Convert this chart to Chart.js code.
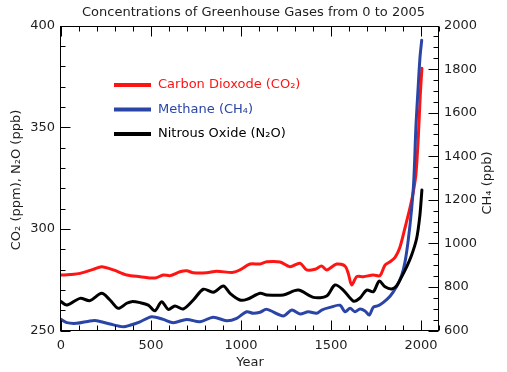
<!DOCTYPE html>
<html><head><meta charset="utf-8">
<script src="https://cdn.jsdelivr.net/npm/chart.js@4.4.1/dist/chart.umd.min.js"></script>
<style>html,body{margin:0;padding:0;background:#fff}#wrap{width:507px;height:372px}</style>
</head><body><div id="wrap"><canvas id="c" width="507" height="372"></canvas></div>
<script>
// ---- data ----
const chartTitle = 'Concentrations of Greenhouse Gases from 0 to 2005';
const xTitle = 'Year';
const leftTitle = 'CO\u2082 (ppm), N\u2082O (ppb)';
const rightTitle = 'CH\u2084 (ppb)';
const seriesLabels = ['Carbon Dioxode (CO\u2082)', 'Methane (CH\u2084)', 'Nitrous Oxide (N\u2082O)'];

const co2Years = [0, 50, 106, 179, 226, 291, 365, 439, 522, 568, 606, 661, 698, 735, 809, 865, 957, 994, 1050, 1106, 1143, 1217, 1272, 1328, 1365, 1411, 1448, 1476, 1532, 1578, 1596, 1615, 1643, 1679, 1735, 1772, 1800, 1828, 1856, 1883, 1911, 1939, 1957, 1972, 1985, 1996, 2005];
const co2Values = [277.3, 277.5, 278.1, 280.1, 281.4, 279.8, 277.3, 276.5, 275.8, 277.3, 277.0, 278.9, 279.4, 278.4, 278.4, 279.1, 278.6, 279.8, 282.7, 282.7, 283.8, 283.7, 281.4, 283.1, 279.8, 280.1, 281.7, 279.8, 282.7, 281.7, 278.1, 272.4, 276.5, 276.5, 277.3, 277.0, 282.2, 283.8, 286.0, 291.0, 300.5, 310.5, 318.0, 327.0, 345.0, 366.0, 379.0];

const ch4Years = [0, 32, 87, 161, 198, 272, 346, 383, 439, 504, 568, 624, 698, 772, 846, 920, 976, 1031, 1068, 1106, 1143, 1235, 1282, 1328, 1374, 1420, 1448, 1494, 1550, 1578, 1606, 1633, 1661, 1689, 1713, 1735, 1763, 1791, 1828, 1865, 1893, 1911, 1930, 1948, 1960, 1972, 1983, 1994, 2004];
const ch4Values = [651, 636, 633, 644, 645, 630, 617, 624, 640, 663, 651, 636, 651, 640, 661, 645, 656, 686, 679, 684, 697, 667, 694, 676, 686, 679, 694, 706, 716, 686, 702, 686, 699, 690, 671, 707, 714, 729, 757, 803, 855, 914, 1021, 1160, 1290, 1540, 1700, 1850, 1933];

const n2oYears = [0, 32, 106, 161, 226, 272, 318, 365, 393, 439, 485, 522, 559, 596, 633, 679, 735, 791, 846, 902, 939, 994, 1032, 1106, 1143, 1235, 1318, 1402, 1476, 1522, 1568, 1624, 1661, 1698, 1735, 1768, 1800, 1837, 1865, 1893, 1921, 1948, 1976, 1994, 2005];
const n2oValues = [264.2, 262.5, 265.8, 264.7, 268.3, 265.0, 260.9, 263.4, 264.2, 263.7, 262.5, 259.7, 264.2, 260.4, 262.1, 260.6, 265.0, 270.3, 268.8, 271.9, 268.3, 265.0, 265.3, 268.3, 267.5, 267.5, 269.9, 266.3, 267.0, 272.4, 269.9, 264.5, 266.0, 269.9, 269.1, 274.3, 271.5, 270.4, 272.0, 276.5, 281.4, 287.1, 295.4, 306.8, 319.1];

// tick labels and axis ranges
const xTickLabels = [0, 500, 1000, 1500, 2000];
const leftTickLabels = [250, 300, 350, 400];
const rightTickLabels = [600, 800, 1000, 1200, 1400, 1600, 1800, 2000];
const xRange = [0, 2100], xMinor = 100;
const leftRange = [250, 400], leftMinor = 10;
const rightRange = [600, 2000], rightMinor = 50;

// ---- styling ----
const FONT = 'DejaVu Sans';
const TXT = '#1e1e1e';
const colors = ['#ff1414', '#2a45a6', '#000000'];

function pts(xs, ys) { return xs.map((x, i) => ({x: x, y: ys[i]})); }
function setTicks(vals) { return function (s) { s.ticks = vals.map(v => ({value: v})); }; }

const frameTicks = {
  id: 'frameTicks',
  afterDraw(chart) {
    const ctx = chart.ctx, a = chart.chartArea;
    const sx = chart.scales.x, sl = chart.scales.yL, sr = chart.scales.yR;
    const L = Math.round(a.left) - 0.5, R = Math.round(a.right) - 0.5;
    const T = Math.round(a.top) + 0.5, B = Math.round(a.bottom) - 0.5;
    ctx.save();
    ctx.strokeStyle = '#000'; ctx.lineWidth = 1;
    ctx.strokeRect(L, T, R - L, B - T);
    ctx.beginPath();
    for (let v = xRange[0]; v <= xRange[1] + 1e-6; v += xMinor) {
      const p = Math.round(sx.getPixelForValue(v)) + 0.5;
      const len = xTickLabels.includes(v) ? 10 : 5;
      ctx.moveTo(p, B); ctx.lineTo(p, B - len);
      ctx.moveTo(p, T); ctx.lineTo(p, T + len);
    }
    for (let v = leftRange[0]; v <= leftRange[1] + 1e-6; v += leftMinor) {
      const p = Math.round(sl.getPixelForValue(v)) + 0.5;
      const len = leftTickLabels.includes(v) ? 10 : 5;
      ctx.moveTo(L, p); ctx.lineTo(L + len, p);
    }
    for (let v = rightRange[0]; v <= rightRange[1] + 1e-6; v += rightMinor) {
      const p = Math.round(sr.getPixelForValue(v)) + 0.5;
      const len = rightTickLabels.includes(v) ? 10 : 5;
      ctx.moveTo(R, p); ctx.lineTo(R - len, p);
    }
    ctx.stroke();
    // axis titles (both read bottom-to-top)
    ctx.fillStyle = TXT;
    ctx.font = '13px "' + FONT + '"';
    ctx.textAlign = 'center'; ctx.textBaseline = 'middle';
    ctx.save(); ctx.translate(17, 180); ctx.rotate(-Math.PI / 2); ctx.fillText(leftTitle, 0, 0); ctx.restore();
    ctx.save(); ctx.translate(488, 183); ctx.rotate(-Math.PI / 2); ctx.fillText(rightTitle, 0, 0); ctx.restore();
    // in-plot legend
    const ly = [85, 109.5, 134];
    chart.data.datasets.forEach((ds, i) => {
      ctx.strokeStyle = ds.borderColor; ctx.lineWidth = 4;
      ctx.beginPath(); ctx.moveTo(114, ly[i]); ctx.lineTo(151, ly[i]); ctx.stroke();
      ctx.fillStyle = ds.borderColor; ctx.textAlign = 'left';
      ctx.fillText(ds.label, 158, ly[i]);
    });
    ctx.restore();
  }
};

const tickFont = {family: FONT, size: 13};
new Chart(document.getElementById('c'), {
  type: 'line',
  data: {
    datasets: [
      {label: seriesLabels[0], data: pts(co2Years, co2Values), yAxisID: 'yL', borderColor: colors[0], order: 3},
      {label: seriesLabels[1], data: pts(ch4Years, ch4Values), yAxisID: 'yR', borderColor: colors[1], order: 2},
      {label: seriesLabels[2], data: pts(n2oYears, n2oValues), yAxisID: 'yL', borderColor: colors[2], order: 1}
    ]
  },
  options: {
    responsive: false, animation: false, devicePixelRatio: 1,
    layout: {padding: 0},
    elements: {line: {borderWidth: 3, tension: 0.3, fill: false, borderJoinStyle: 'round', borderCapStyle: 'round'}, point: {radius: 0}},
    plugins: {
      legend: {display: false}, tooltip: {enabled: false},
      title: {display: true, text: chartTitle, color: TXT, font: {family: FONT, size: 13, weight: 'normal'}, padding: {top: 5, bottom: 5}}
    },
    scales: {
      x: {
        type: 'linear', min: xRange[0], max: xRange[1],
        afterBuildTicks: setTicks(xTickLabels),
        grid: {display: false, drawTicks: false}, border: {display: false},
        ticks: {padding: 7, color: TXT, font: tickFont, maxRotation: 0, autoSkip: false, callback: v => String(v)},
        title: {display: true, text: xTitle, color: TXT, font: tickFont, padding: {top: 2, bottom: 2}},
        afterFit(s) { s.height = 41.5; }
      },
      yL: {
        position: 'left', min: leftRange[0], max: leftRange[1],
        afterBuildTicks: setTicks(leftTickLabels),
        grid: {display: false, drawTicks: false}, border: {display: false},
        ticks: {padding: 6, color: TXT, font: tickFont, autoSkip: false, callback: v => String(v)},
        afterFit(s) { s.width = 61; }
      },
      yR: {
        position: 'right', min: rightRange[0], max: rightRange[1],
        afterBuildTicks: setTicks(rightTickLabels),
        grid: {display: false, drawTicks: false}, border: {display: false},
        ticks: {padding: 5, color: TXT, font: tickFont, autoSkip: false, callback: v => String(v)},
        afterFit(s) { s.width = 68; }
      }
    }
  },
  plugins: [frameTicks]
});
</script>
</body></html>
